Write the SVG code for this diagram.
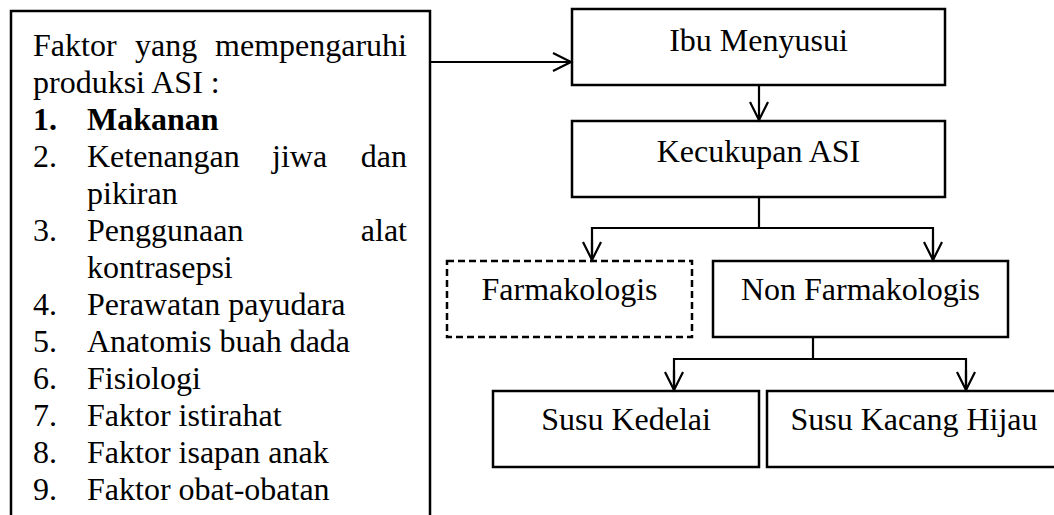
<svg xmlns="http://www.w3.org/2000/svg" width="1054" height="515" viewBox="0 0 1054 515">
<style>
.box{fill:#fff;stroke:#000;stroke-width:2.5}
.dash{fill:#fff;stroke:#000;stroke-width:2.5;stroke-dasharray:7 4}
.t{font-family:"Liberation Serif","Times New Roman",serif;font-size:32px;fill:#000}
.c{text-anchor:middle}
.e{text-anchor:end}
.b{font-weight:bold}
.ln{fill:none;stroke:#000;stroke-width:2.2}
</style>
<defs>
<marker id="ah" markerUnits="userSpaceOnUse" markerWidth="24" markerHeight="24" viewBox="-20 -12 24 24" refX="0" refY="0" orient="auto">
<path d="M-18,-9 L0,0 L-18,9" fill="none" stroke="#000" stroke-width="2.2"/>
</marker>
</defs>
<rect width="1054" height="515" fill="#fff"/>
<g id="factors">
<rect class="box" x="11" y="11" width="419" height="520"/>
<text class="t" x="33" y="56">Faktor</text>
<text class="t" x="135" y="56">yang</text>
<text class="t e" x="407" y="56">mempengaruhi</text>
<text class="t" x="33" y="93">produksi ASI :</text>
<text class="t b" x="33" y="130">1.</text>
<text class="t b" x="87" y="130">Makanan</text>
<text class="t" x="33" y="167">2.</text>
<text class="t" x="87" y="167">Ketenangan</text>
<text class="t" x="272" y="167">jiwa</text>
<text class="t e" x="407" y="167">dan</text>
<text class="t" x="87" y="204">pikiran</text>
<text class="t" x="33" y="241">3.</text>
<text class="t" x="87" y="241">Penggunaan</text>
<text class="t e" x="407" y="241">alat</text>
<text class="t" x="87" y="278">kontrasepsi</text>
<text class="t" x="33" y="315">4.</text>
<text class="t" x="87" y="315">Perawatan payudara</text>
<text class="t" x="33" y="352">5.</text>
<text class="t" x="87" y="352">Anatomis buah dada</text>
<text class="t" x="33" y="389">6.</text>
<text class="t" x="87" y="389">Fisiologi</text>
<text class="t" x="33" y="426">7.</text>
<text class="t" x="87" y="426">Faktor istirahat</text>
<text class="t" x="33" y="463">8.</text>
<text class="t" x="87" y="463">Faktor isapan anak</text>
<text class="t" x="33" y="500">9.</text>
<text class="t" x="87" y="500">Faktor obat-obatan</text>
</g>
<g id="ibu">
<rect class="box" x="572" y="9" width="373" height="76"/>
<text class="t c" x="758.5" y="51">Ibu Menyusui</text>
</g>
<g id="kecukupan">
<rect class="box" x="572" y="121" width="373" height="76"/>
<text class="t c" x="758.5" y="162">Kecukupan ASI</text>
</g>
<g id="farmakologis">
<rect class="dash" x="447" y="261" width="245" height="76"/>
<text class="t c" x="569.5" y="300">Farmakologis</text>
</g>
<g id="nonfarmakologis">
<rect class="box" x="713" y="261" width="295" height="76"/>
<text class="t c" x="860.5" y="300">Non Farmakologis</text>
</g>
<g id="kedelai">
<rect class="box" x="493" y="391" width="266" height="76"/>
<text class="t c" x="626" y="430">Susu Kedelai</text>
</g>
<g id="kacanghijau">
<rect class="box" x="767" y="391" width="294" height="76"/>
<text class="t c" x="914" y="430">Susu Kacang Hijau</text>
</g>
<g id="connectors">
<line class="ln" x1="430" y1="62" x2="571" y2="62" marker-end="url(#ah)"/>
<line class="ln" x1="759" y1="85" x2="759" y2="120" marker-end="url(#ah)"/>
<polyline class="ln" points="759,197 759,228"/>
<polyline class="ln" points="592,260 592,228 933,228 933,260"/>
<line class="ln" x1="592" y1="240" x2="592" y2="260" marker-end="url(#ah)"/>
<line class="ln" x1="933" y1="240" x2="933" y2="260" marker-end="url(#ah)"/>
<polyline class="ln" points="813,337 813,359"/>
<polyline class="ln" points="674,390 674,359 966,359 966,390"/>
<line class="ln" x1="674" y1="370" x2="674" y2="390" marker-end="url(#ah)"/>
<line class="ln" x1="966" y1="370" x2="966" y2="390" marker-end="url(#ah)"/>
</g>
</svg>
